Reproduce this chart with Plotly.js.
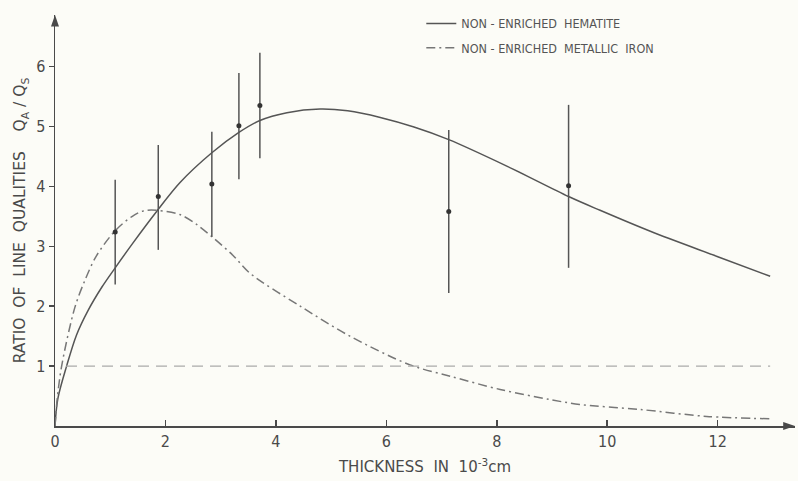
<!DOCTYPE html>
<html>
<head>
<meta charset="utf-8">
<script src="https://cdn.plot.ly/plotly-3.0.1.min.js"></script>
<style>html,body{margin:0;padding:0;background:#fcfcf7;}#chart{width:798px;height:481px;}</style>
</head>
<body>
<div id="chart"></div>
<script>
// Non-enriched hematite (solid curve)
const hematiteX = [0, 0.05, 0.21, 0.39, 0.6, 0.85, 1.09, 1.4, 1.84, 2.26, 2.84, 3.33, 3.71, 4.2, 4.8, 5.3, 5.89, 6.5, 7.13, 8.2, 9.3, 9.87, 10.78, 11.99, 12.95];
const hematiteY = [0, 0.45, 1.0, 1.52, 1.93, 2.32, 2.64, 3.04, 3.58, 4.06, 4.56, 4.9, 5.1, 5.23, 5.29, 5.26, 5.15, 4.99, 4.78, 4.33, 3.83, 3.6, 3.25, 2.83, 2.5];
// Non-enriched metallic iron (dash-dot curve)
const ironX = [0, 0.04, 0.12, 0.36, 0.55, 0.75, 1.09, 1.4, 1.6, 1.84, 2.26, 2.57, 2.84, 3.22, 3.53, 4.44, 5.34, 6.43, 7.16, 8.06, 8.97, 9.5, 10.6, 11.8, 12.95];
const ironY = [0, 0.45, 1.0, 1.98, 2.45, 2.84, 3.26, 3.5, 3.59, 3.6, 3.53, 3.36, 3.16, 2.85, 2.55, 2.0, 1.5, 1.02, 0.83, 0.61, 0.44, 0.36, 0.275, 0.16, 0.12];
// Reference level at ratio 1
const refX = [0.2, 12.95];
const refY = [1, 1];
// Measured points with error bars
const pointX = [1.09, 1.87, 2.84, 3.33, 3.71, 7.13, 9.3];
const pointY = [3.24, 3.83, 4.04, 5.01, 5.35, 3.58, 4.01];
const pointHigh = [4.11, 4.69, 4.91, 5.89, 6.23, 4.94, 5.36];
const pointLow = [2.36, 2.94, 3.16, 4.12, 4.47, 2.22, 2.64];
const xTicks = [0, 2, 4, 6, 8, 10, 12];
const yTicks = [1, 2, 3, 4, 5, 6];

const font = "'DejaVu Sans Condensed', 'DejaVu Sans', Arial, sans-serif";
const titleFont = "'DejaVu Sans', Arial, sans-serif";
const ink = '#4a4a4a';

const traces = [
  {x: hematiteX, y: hematiteY, mode: 'lines', line: {shape: 'spline', smoothing: 0.9, color: '#555', width: 1.5},
   name: 'NON - ENRICHED  HEMATITE', legendgroup: 'a'},
  {x: ironX, y: ironY, mode: 'lines', line: {shape: 'spline', smoothing: 0.9, color: '#777', width: 1.5, dash: '9px,4px,2px,4px'},
   name: 'NON - ENRICHED  METALLIC  IRON', legendgroup: 'b'},
  {x: refX, y: refY, mode: 'lines', line: {color: '#aaa', width: 1.3, dash: '11px,7px'}, showlegend: false, hoverinfo: 'skip'},
  {x: pointX, y: pointY, mode: 'markers', marker: {size: 5, color: '#333'}, showlegend: false,
   error_y: {type: 'data', symmetric: false,
     array: pointHigh.map((h, i) => h - pointY[i]),
     arrayminus: pointLow.map((l, i) => pointY[i] - l),
     color: '#555', thickness: 1.5, width: 0}}
];

const layout = {
  width: 798, height: 481,
  margin: {l: 55, r: 3, t: 15, b: 55},
  paper_bgcolor: '#fcfcf7', plot_bgcolor: '#fcfcf7',
  font: {family: font, color: ink, size: 15},
  showlegend: true,
  legend: {x: 0.495, y: 1.015, xanchor: 'left', yanchor: 'top', bgcolor: 'rgba(0,0,0,0)',
    font: {size: 12.5, color: '#555', family: font}, tracegroupgap: 5},
  xaxis: {range: [0, 13.4], tickvals: xTicks, ticktext: xTicks.map(String), ticks: 'inside', ticklen: 6, tickwidth: 1.5,
    tickcolor: ink, showline: true, linecolor: ink, linewidth: 1.5, showgrid: false, zeroline: false,
    tickfont: {size: 16, color: ink},
    title: {text: 'THICKNESS  IN  10<sup>-3</sup>cm', font: {size: 15, color: ink, family: titleFont}, standoff: 12}},
  yaxis: {range: [0, 6.86], tickvals: yTicks, ticktext: yTicks.map(String), ticks: 'outside', ticklen: 5, tickwidth: 1.5,
    tickcolor: ink, showline: true, linecolor: ink, linewidth: 1.5, showgrid: false, zeroline: false,
    tickfont: {size: 16, color: ink},
    title: {text: 'RATIO  OF  LINE  QUALITIES    Q<sub>A</sub> / Q<sub>S</sub>', font: {size: 15.5, color: ink, family: titleFont}, standoff: 6}},
  shapes: [
    {type: 'path', xref: 'paper', yref: 'paper', path: 'M 1.0 0 L 0.984 0.0095 L 0.984 -0.0095 Z',
     fillcolor: ink, line: {width: 0}},
    {type: 'path', xref: 'paper', yref: 'paper', path: 'M 0 1.0 L 0.0054 0.972 L -0.0054 0.972 Z',
     fillcolor: ink, line: {width: 0}}
  ]
};

Plotly.newPlot('chart', traces, layout, {displayModeBar: false, staticPlot: true});
</script>
</body>
</html>
